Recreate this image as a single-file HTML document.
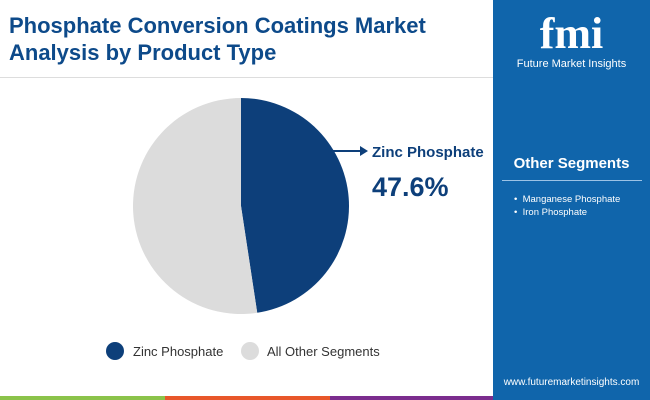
<!DOCTYPE html>
<html><head><meta charset="utf-8"><style>
body{margin:0;width:650px;height:400px;overflow:hidden;background:#fff;font-family:"Liberation Sans",sans-serif;position:relative}
.abs{position:absolute}
</style></head><body>
<div class="abs" style="left:9px;top:12px;font-size:22px;font-weight:bold;color:#0d4a8a;line-height:27px">Phosphate Conversion Coatings Market<br>Analysis by Product Type</div>
<div class="abs" style="left:0;top:77px;width:493px;height:1px;background:#ddd"></div>
<div class="abs" style="left:493px;top:0;width:157px;height:400px;background:#1065ab"></div>
<div class="abs" style="left:493px;top:10px;width:157px;text-align:center;color:#fff">
<div style="font-size:44px;font-weight:bold;line-height:48px;font-family:'Liberation Serif',serif">fmi</div>
<div style="font-size:11px">Future Market Insights</div></div>
<div class="abs" style="left:493px;top:155px;width:157px;text-align:center;color:#fff;font-weight:bold;font-size:15px">Other Segments</div>
<div class="abs" style="left:502px;top:180px;width:140px;height:1px;background:#9cc3e6"></div>
<div class="abs" style="left:514px;top:193px;color:#fff;font-size:9.5px;line-height:13px">• &nbsp;Manganese Phosphate<br>• &nbsp;Iron Phosphate</div>
<div class="abs" style="left:493px;top:377px;width:157px;text-align:center;color:#fff;font-size:10px">www.futuremarketinsights.com</div>
<div class="abs" style="left:0;top:396px;width:165px;height:4px;background:#8bc34a"></div>
<div class="abs" style="left:165px;top:396px;width:165px;height:4px;background:#e8572a"></div>
<div class="abs" style="left:330px;top:396px;width:163px;height:4px;background:#7b2d8e"></div>
<svg class="abs" style="left:0;top:0" width="493" height="396">
<g id="pie"></g>
<line x1="332" y1="151" x2="362" y2="151" stroke="#0d3f7a" stroke-width="2"/>
<polygon points="368,151 360,146 360,156" fill="#0d3f7a"/>
<text x="372" y="157" font-size="15" font-weight="bold" fill="#0d3f7a">Zinc Phosphate</text>
<text x="372" y="196" font-size="27" font-weight="bold" fill="#0d3f7a">47.6%</text>
<circle cx="115" cy="351" r="9" fill="#0d3f7a"/>
<text x="133" y="356" font-size="13" fill="#333">Zinc Phosphate</text>
<circle cx="250" cy="351" r="9" fill="#dcdcdc"/>
<text x="267" y="356" font-size="13" fill="#333">All Other Segments</text>
</svg>
<script>
const categories=["Zinc Phosphate","All Other Segments"];
const values=[47.6,52.4];
const colors=["#0d3f7a","#dcdcdc"];
const cx=241,cy=206,r=108;
const g=document.getElementById('pie');
const total=values.reduce((a,b)=>a+b,0);
let a0=-Math.PI/2;
values.forEach((v,i)=>{
 const a1=a0+v/total*2*Math.PI;
 const large=(a1-a0)>Math.PI?1:0;
 const p=document.createElementNS('http://www.w3.org/2000/svg','path');
 p.setAttribute('d',`M${cx},${cy} L${cx+r*Math.cos(a0)},${cy+r*Math.sin(a0)} A${r},${r} 0 ${large} 1 ${cx+r*Math.cos(a1)},${cy+r*Math.sin(a1)} Z`);
 p.setAttribute('fill',colors[i]);
 
 
 g.appendChild(p);
 a0=a1;
});
</script>
</body></html>
